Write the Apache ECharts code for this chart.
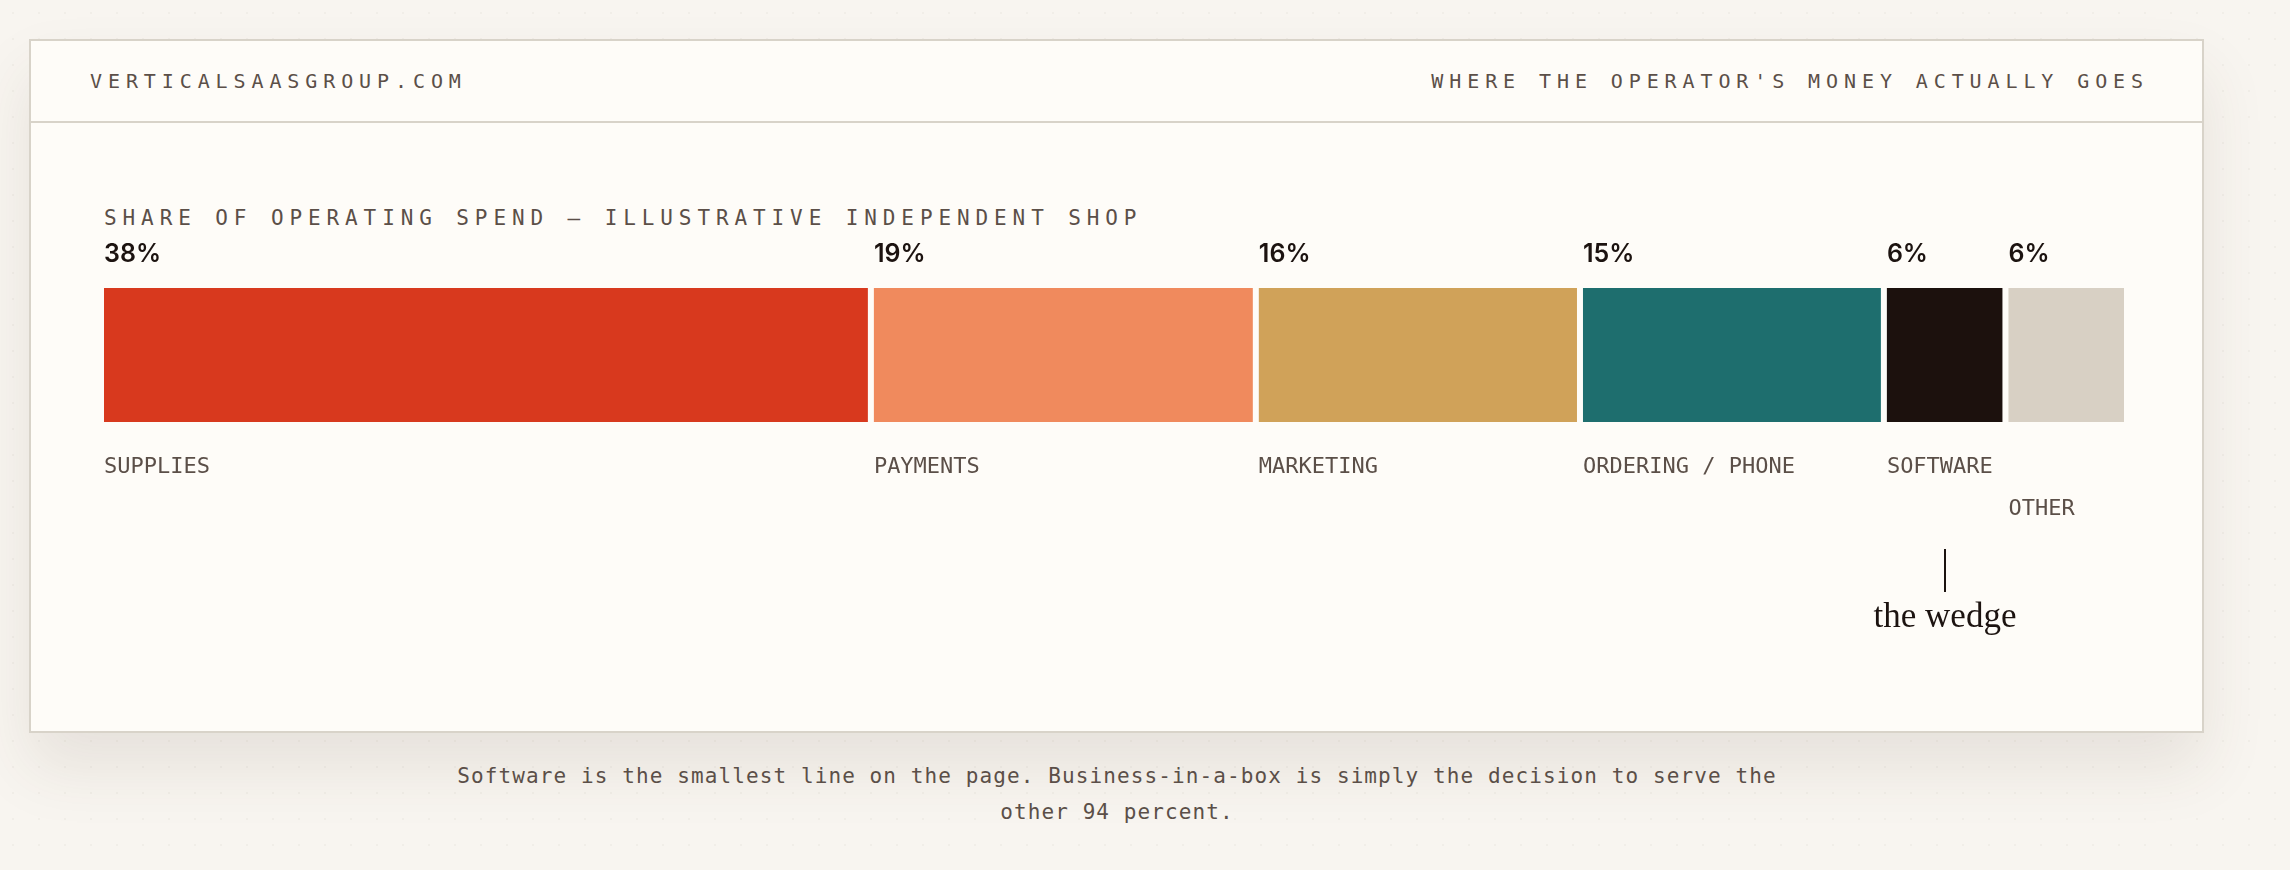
<!DOCTYPE html>
<html>
<head>
<meta charset="utf-8">
<title>Where the operator's money actually goes</title>
<script src="https://cdn.jsdelivr.net/npm/echarts@6/dist/echarts.min.js"></script>
<style>
  html, body { margin: 0; padding: 0; }
  body {
    width: 2290px; height: 870px; position: relative; overflow: hidden;
    background-color: #f8f5f0;
    background-image: radial-gradient(rgba(120, 100, 80, 0.05) 1px, transparent 1.2px);
    background-size: 26px 26px;
    font-family: "DejaVu Sans Mono", monospace;
    color: #5b4f48;
  }
  .card {
    position: absolute; left: 29px; top: 39px; width: 2171px; height: 690px;
    background: #fefcf8; border: 2px solid #d8d3c9;
    box-shadow: 0 34px 60px rgba(80, 60, 40, 0.10);
  }
  .card-head {
    height: 80px; border-bottom: 2px solid #d8d3c9; position: relative;
  }
  .card-head span {
    position: absolute; top: 40px; transform: translateY(-50%);
    font-size: 20px; letter-spacing: 5.9px; white-space: nowrap;
  }
  .brand { left: 59px; }
  .kicker { right: 53px; }
  .subtitle {
    position: absolute; left: 73px; top: 177px; transform: translateY(-50%);
    font-size: 21px; letter-spacing: 5.9px; white-space: nowrap;
  }
  .caption {
    position: absolute; left: 447px; top: 758px; width: 1340px;
    text-align: center; font-size: 21px; letter-spacing: 1.1px; line-height: 36px;
  }
  #chart { position: absolute; left: 0; top: 0; width: 2290px; height: 870px; }
</style>
</head>
<body>
<div class="card">
  <div class="card-head">
    <span class="brand">VERTICALSAASGROUP.COM</span>
    <span class="kicker">WHERE THE OPERATOR'S MONEY ACTUALLY GOES</span>
  </div>
  <div class="subtitle">SHARE OF OPERATING SPEND — ILLUSTRATIVE INDEPENDENT SHOP</div>
</div>
<div class="caption">Software is the smallest line on the page. Business-in-a-box is simply the decision to serve the other 94 percent.</div>
<div id="chart"></div>
<script>
// spend categories, left to right
var categories = ['SUPPLIES', 'PAYMENTS', 'MARKETING', 'ORDERING / PHONE', 'SOFTWARE', 'OTHER'];
var shares = [38, 19, 16, 15, 6, 6];
var shareLabels = ['38%', '19%', '16%', '15%', '6%', '6%'];
var segmentColors = ['#d8391e', '#f08a5d', '#d0a259', '#1e6e6e', '#1c110d', '#d8d0c4'];
// callout under one segment
var annotatedCategory = 'SOFTWARE';
var annotationText = 'the wedge';

var GAP = 6;
var LABEL_FONT = 22;
var CHAR_W = LABEL_FONT * 0.602;

var starts = [];
var acc = 0;
for (var i = 0; i < shares.length; i++) {
  starts.push(acc);
  acc += shares[i];
}
var segData = [];
for (var i = 0; i < shares.length; i++) {
  segData.push([starts[i], shares[i], i]);
}

var chart = echarts.init(document.getElementById('chart'), null, { renderer: 'canvas' });

function renderSegment(params, api) {
  var idx = params.dataIndex;
  var start = api.value(0);
  var val = api.value(1);
  var p0 = api.coord([start, 1]);
  var p1 = api.coord([start + val, 0]);
  var x0 = p0[0], top = p0[1];
  var x1 = p1[0] - GAP, bottom = p1[1];

  // drop the label one row down if the previous one would run into it
  var row = 0;
  if (idx > 0) {
    var prevX = api.coord([starts[idx - 1], 0])[0];
    if (prevX + categories[idx - 1].length * CHAR_W + 24 > x0) row = 1;
  }

  var children = [
    {
      type: 'rect',
      shape: { x: x0, y: top, width: x1 - x0, height: bottom - top },
      style: { fill: segmentColors[idx] }
    },
    {
      type: 'text',
      x: x0, y: top - 34,
      style: {
        text: shareLabels[idx], fill: '#1c1310',
        font: '600 25px Inter, "Noto Sans", sans-serif',
        align: 'left', verticalAlign: 'middle'
      }
    },
    {
      type: 'text',
      x: x0, y: bottom + 45 + row * 42,
      style: {
        text: categories[idx], fill: '#5b4f48',
        font: LABEL_FONT + 'px "DejaVu Sans Mono", monospace',
        align: 'left', verticalAlign: 'middle'
      }
    }
  ];

  if (categories[idx] === annotatedCategory) {
    var cx = Math.round((x0 + x1) / 2);
    children.push({
      type: 'line',
      shape: { x1: cx, y1: bottom + 127, x2: cx, y2: bottom + 170 },
      style: { stroke: '#1c1310', lineWidth: 2 }
    });
    children.push({
      type: 'text',
      x: cx, y: bottom + 196,
      style: {
        text: annotationText, fill: '#1c1310',
        font: '35px "Liberation Serif", "DejaVu Serif", serif',
        align: 'center', verticalAlign: 'middle'
      }
    });
  }

  return { type: 'group', children: children };
}

chart.setOption({
  backgroundColor: 'transparent',
  animation: false,
  grid: { left: 104, right: 160, top: 288, bottom: 448 },
  xAxis: { type: 'value', min: 0, max: 100, show: false },
  yAxis: { type: 'value', min: 0, max: 1, show: false },
  series: [
    {
      type: 'custom',
      renderItem: renderSegment,
      clip: false,
      silent: true,
      encode: { x: [0, 1] },
      data: segData
    }
  ]
});
</script>
</body>
</html>
